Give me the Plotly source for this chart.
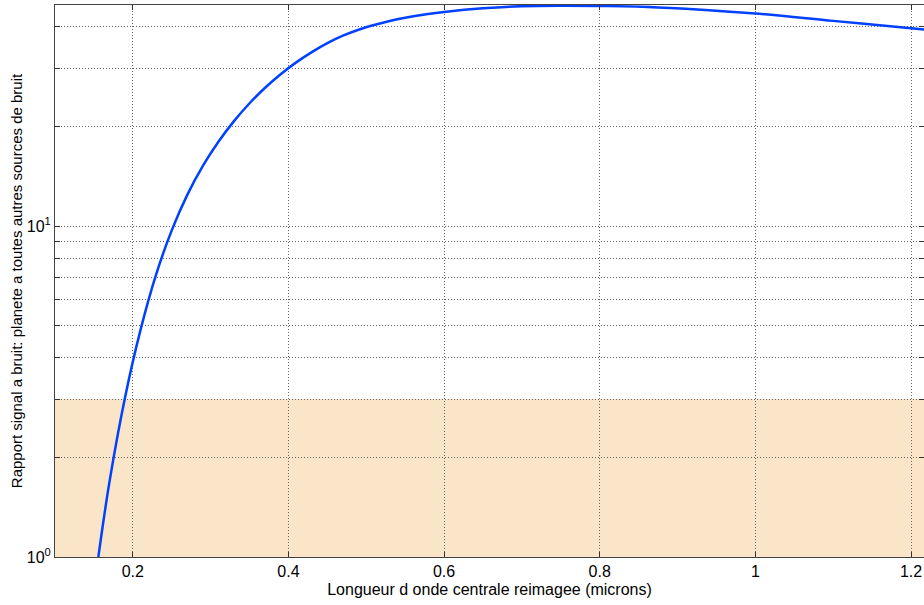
import plotly.graph_objects as go

# Data
wavelength = [0.1557, 0.17, 0.19, 0.21, 0.23, 0.25, 0.27, 0.29, 0.31, 0.33,
              0.35, 0.37, 0.39, 0.41, 0.43, 0.45, 0.47, 0.49, 0.51, 0.53,
              0.55, 0.575, 0.60, 0.65, 0.70, 0.75, 0.80, 0.875, 1.00, 1.10,
              1.20, 1.217]
snr = [1.0, 1.687, 3.034, 4.864, 7.145, 9.705, 12.42, 15.19, 17.97, 20.75,
       23.50, 26.18, 28.77, 31.23, 33.54, 35.71, 37.60, 39.19, 40.50, 41.65,
       42.62, 43.61, 44.36, 45.50, 46.19, 46.34, 46.24, 45.79, 43.91, 41.69,
       39.63, 39.26]

band_low, band_high = 1, 3
x_ticks = [0.2, 0.4, 0.6, 0.8, 1.0, 1.2]
x_ticktext = ["0.2", "0.4", "0.6", "0.8", "1", "1.2"]
y_major = [1, 10]
y_major_text = ["10<sup>0</sup>", "10<sup>1</sup>"]
y_minor = [2, 3, 4, 5, 6, 7, 8, 9, 20, 30, 40]

fig = go.Figure()
fig.add_shape(type="rect", xref="paper", yref="y", x0=0, x1=1, y0=band_low, y1=band_high,
              fillcolor="#FAE5C8", line=dict(width=0), layer="below")
fig.add_trace(go.Scatter(x=wavelength, y=snr, mode="lines", line_shape="spline",
                         line=dict(color="#0040FF", width=2.5), showlegend=False))

font = dict(family="Liberation Sans, Arial, sans-serif", size=14, color="black")
grid = dict(showgrid=True, gridcolor="#666", griddash="1px,2px", gridwidth=1)
fig.update_layout(
    width=924, height=605,
    margin=dict(l=55, r=0, t=5, b=48, autoexpand=False),
    plot_bgcolor="rgba(0,0,0,0)", paper_bgcolor="white",
    font=font,
)
fig.update_xaxes(range=[0.1, 1.2167], tickvals=x_ticks, ticktext=x_ticktext, automargin=False,
                 showline=True, linecolor="#444", linewidth=1, mirror="ticks",
                 ticks="inside", ticklen=5, tickcolor="#333",
                 zeroline=False, tickfont=dict(size=16), **grid,
                 title=dict(text="Longueur d onde centrale reimagee (microns)", standoff=4,
                            font=dict(size=16)))
fig.update_yaxes(type="log", range=[0, 1.668], tickvals=y_major, ticktext=y_major_text,
                 automargin=False,
                 showline=True, linecolor="#444", linewidth=1, mirror="ticks",
                 ticks="inside", ticklen=5, tickcolor="#333",
                 zeroline=False, tickfont=dict(size=16), **grid,
                 minor=dict(tickmode="array", tickvals=y_minor, ticks="inside", ticklen=5,
                            tickcolor="#333", showgrid=True, gridcolor="#666",
                            griddash="1px,2px", gridwidth=1),
                 title=dict(text="Rapport signal a bruit: planete a toutes autres sources de bruit",
                            standoff=0, font=dict(size=15)))
fig.write_html("out.html", config={"displayModeBar": False},
               post_script="document.body.style.margin='0';document.body.style.overflow='hidden';")
